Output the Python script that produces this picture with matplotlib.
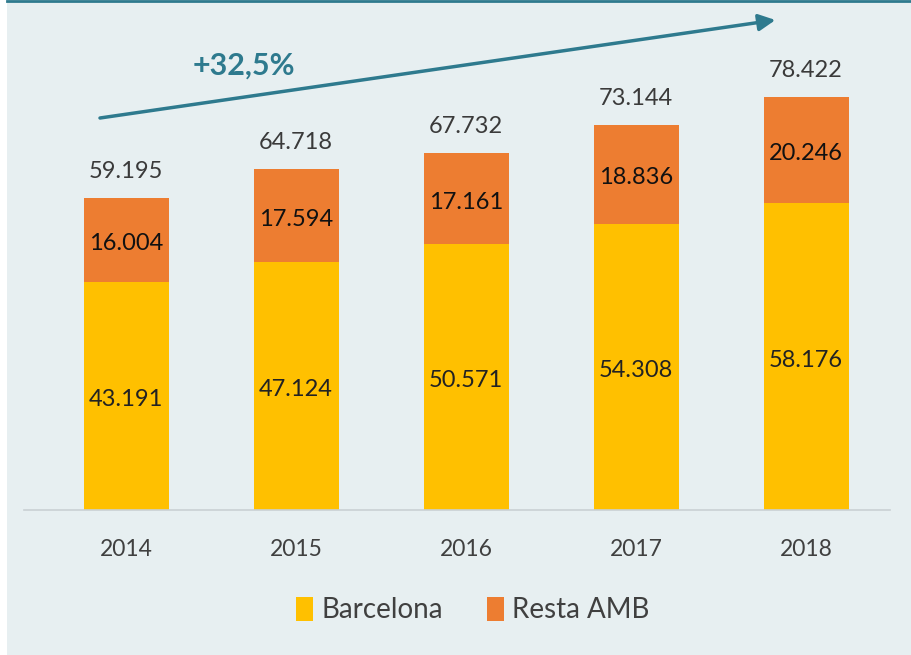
import matplotlib.pyplot as plt
import numpy as np

years = ['2014', '2015', '2016', '2017', '2018']
barcelona = [43.191, 47.124, 50.571, 54.308, 58.176]
resta_amb = [16.004, 17.594, 17.161, 18.836, 20.246]
totals = [59.195, 64.718, 67.732, 73.144, 78.422]

def fmt(v):
    return '{:.3f}'.format(v)

plt.rcParams['font.family'] = ['Lato', 'DejaVu Sans']
bg = '#e7eff1'
teal = '#2e7a8e'

fig = plt.figure(figsize=(9.12, 6.55), dpi=100)
fig.patch.set_facecolor('white')
# background panel and top rule
fig.add_artist(plt.Rectangle((7/912, 0), 1 - 7/912, 1, transform=fig.transFigure,
                             facecolor=bg, edgecolor='none', zorder=0))
fig.add_artist(plt.Line2D([7/912, 1], [1 - 1/655, 1 - 1/655], transform=fig.transFigure,
                          color=teal, lw=2))

ax = fig.add_axes([24/912, 145/655, 866/912, 500/655])
ax.set_facecolor('none')
x = np.arange(len(years))
w = 0.5
ax.bar(x, barcelona, w, color='#ffc000', label='Barcelona', zorder=2)
ax.bar(x, resta_amb, w, bottom=barcelona, color='#ed7d31', label='Resta AMB', zorder=2)

for i in range(len(years)):
    ax.text(x[i], barcelona[i] / 2 - 0.7, fmt(barcelona[i]), ha='center', va='center',
            fontsize=17, color='#222222')
    ax.text(x[i], barcelona[i] + resta_amb[i] / 2 - 0.7, fmt(resta_amb[i]), ha='center',
            va='center', fontsize=17, color='#111111')
    ax.text(x[i], totals[i] + 3.0, fmt(totals[i]), ha='center', va='bottom',
            fontsize=17, color='#3a3a3a')

ax.set_xlim(-0.6, 4.494)
ax.set_ylim(0, 94.9)
for s in ['top', 'right', 'left']:
    ax.spines[s].set_visible(False)
ax.spines['bottom'].set_color('#c9d0d3')
ax.spines['bottom'].set_linewidth(1.2)
ax.set_yticks([])
ax.set_xticks(x)
ax.set_xticklabels(years, fontsize=16.5, color='#404040')
ax.tick_params(axis='x', length=0, pad=21)

# growth arrow
ax.annotate('', xy=(3.82, 93.0), xytext=(-0.153, 74.4),
            arrowprops=dict(arrowstyle='-|>,head_length=1.0,head_width=0.5',
                            color=teal, lw=2.5, shrinkA=0, shrinkB=0),
            annotation_clip=False)
ax.text(0.694, 84.4, '+32,5%', ha='center', va='center', fontsize=22,
        fontweight='bold', color=teal)

fig.legend(loc='center', bbox_to_anchor=(473/912, 1 - 610/655), ncol=2, frameon=False,
           fontsize=20, handlelength=0.6, handleheight=1.0, handletextpad=0.3,
           columnspacing=1.6, labelcolor='#404040')

fig.savefig('out.png', dpi=100)
